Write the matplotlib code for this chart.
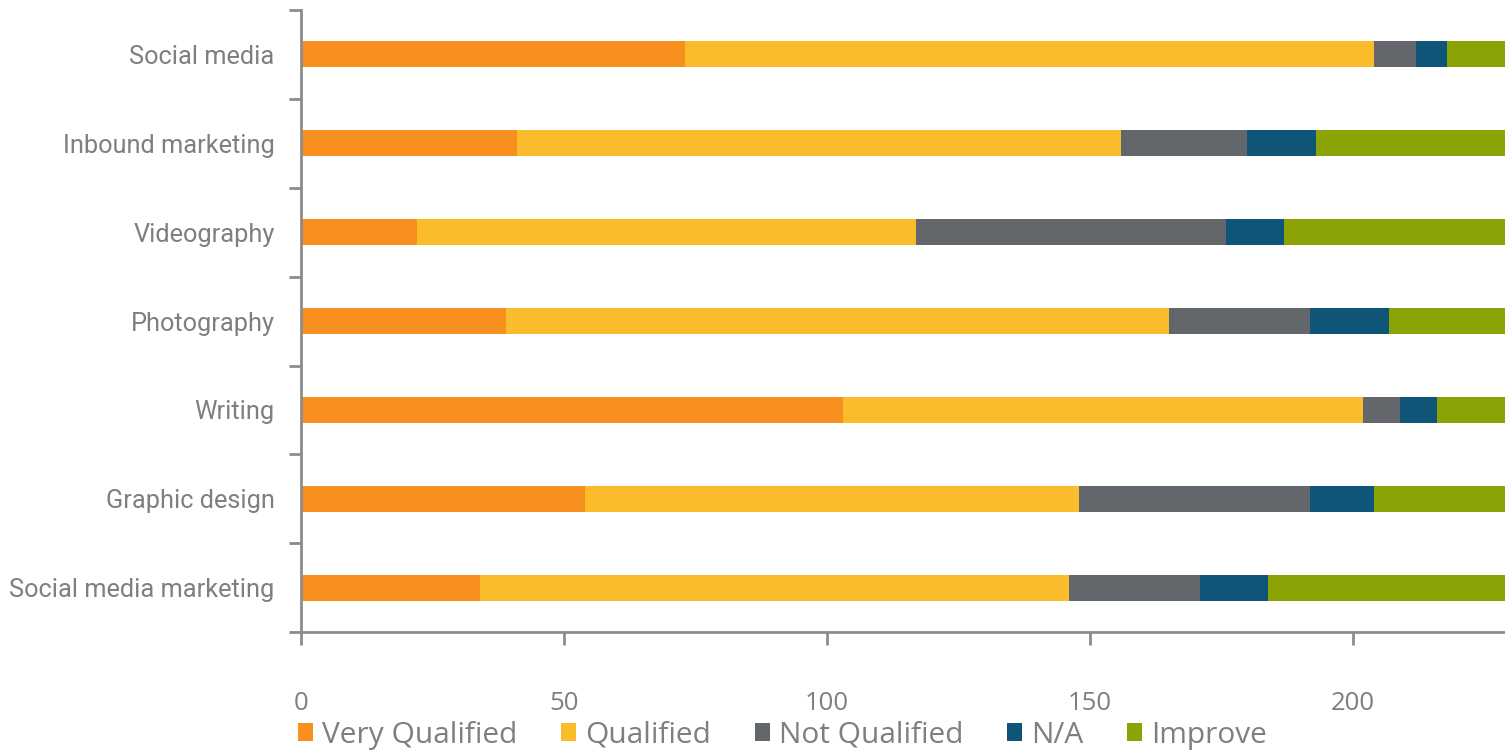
import numpy as np
import matplotlib.pyplot as plt

# --- Data ---
skills = ["Social media", "Inbound marketing", "Videography", "Photography",
          "Writing", "Graphic design", "Social media marketing"]
very_qualified = [73, 41, 22, 39, 103, 54, 34]
qualified = [131, 115, 95, 126, 99, 94, 112]
not_qualified = [8, 24, 59, 27, 7, 44, 25]
not_applicable = [6, 13, 11, 15, 7, 12, 13]
improve = [30, 40, 45, 35, 25, 35, 50]

series = [
    ("Very Qualified", very_qualified, "#F7901E"),
    ("Qualified", qualified, "#FBBC2B"),
    ("Not Qualified", not_qualified, "#63666A"),
    ("N/A", not_applicable, "#0F5578"),
    ("Improve", improve, "#8BA304"),
]

text_gray = "#7F7F7F"
axis_gray = "#8C8C8C"

# --- Figure Setup ---
fig = plt.figure(figsize=(15.05, 7.51), dpi=100)
ax = fig.add_axes([0.2, 0.158, 0.8, 0.829])

y = np.arange(len(skills))
left = np.zeros(len(skills))
for name, vals, color in series:
    ax.barh(y, vals, left=left, height=0.29, color=color, label=name)
    left += np.array(vals)

ax.set_ylim(len(skills) - 0.5, -0.5)
ax.set_xlim(0, 229)

# y axis: labels centred, ticks on category boundaries
ax.set_yticks(y)
ax.set_yticklabels(skills, family="Roboto", fontsize=18.3, color=text_gray)
ax.tick_params(axis="y", length=0, pad=19)
ax.set_yticks(np.arange(len(skills) + 1) - 0.5, minor=True)
ax.tick_params(axis="y", which="minor", length=9, width=2, color=axis_gray)

ax.set_xticks([0, 50, 100, 150, 200])
ax.tick_params(axis="x", length=9, width=2, color=axis_gray, pad=33,
               labelsize=18.5, labelcolor=text_gray)
for lbl in ax.get_xticklabels():
    lbl.set_family("Open Sans")

for side in ["top", "right"]:
    ax.spines[side].set_visible(False)
for side in ["left", "bottom"]:
    ax.spines[side].set_color(axis_gray)
    ax.spines[side].set_linewidth(2)

leg = fig.legend(loc="center left", bbox_to_anchor=(0.18, 0.021), ncol=5,
                 frameon=False, prop={"family": "Open Sans", "size": 21.5},
                 handlelength=0.52, handleheight=0.52, handletextpad=0.3,
                 columnspacing=1.45)
for t in leg.get_texts():
    t.set_color(text_gray)

plt.savefig("out.png", dpi=100)
